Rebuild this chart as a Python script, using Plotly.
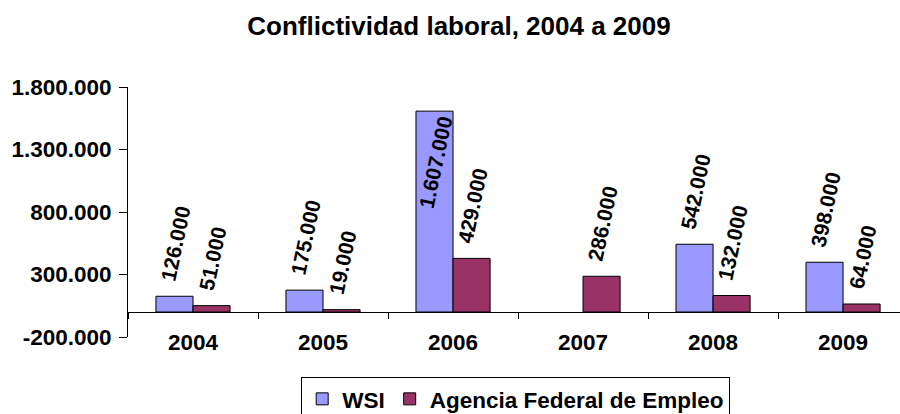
import plotly.graph_objects as go

# datos
years = ["2004", "2005", "2006", "2007", "2008", "2009"]
wsi = [126000, 175000, 1607000, None, 542000, 398000]
afe = [51000, 19000, 429000, 286000, 132000, 64000]
y_ticks = [-200000, 300000, 800000, 1300000, 1800000]

FONT = "Liberation Sans, Arial, sans-serif"
LIMITE = 1400000  # por encima la etiqueta no cabe fuera de la barra


def fmt(v):
    # separador de miles con punto, signo menos normal
    return f"{v:,}".replace(",", ".")


def etiquetas(vals):
    txt = ["" if v is None else "\u2002" + fmt(v) for v in vals]
    pos = ["inside" if (v or 0) > LIMITE else "outside" for v in vals]
    return txt, pos


lab_font = dict(family=FONT, size=21, color="black", weight="bold")

fig = go.Figure()
for name, vals, color in [("WSI", wsi, "#9999FF"),
                          ("Agencia Federal de Empleo", afe, "#993366")]:
    txt, pos = etiquetas(vals)
    fig.add_trace(go.Bar(x=years, y=vals, name=name, text=txt,
                         textposition=pos, textangle=-78, constraintext="none",
                         insidetextanchor="end", cliponaxis=False,
                         textfont=lab_font, insidetextfont=lab_font,
                         outsidetextfont=lab_font, hoverinfo="x+y",
                         marker=dict(color=color, line=dict(color="black", width=1))))
# traza vacia para el eje de categorias que cruza en cero
fig.add_trace(go.Scatter(x=years, y=[0] * len(years), xaxis="x2", mode="none",
                         showlegend=False, hoverinfo="skip"))

fig.update_layout(
    width=900, height=414,
    paper_bgcolor="white", plot_bgcolor="white",
    margin=dict(l=128, r=0, t=87, b=77),
    barmode="group", bargap=0.43, bargroupgap=0,
    title=dict(text="<b>Conflictividad laboral, 2004 a 2009</b>",
               x=0.51, xref="container", y=0.937, yanchor="middle",
               font=dict(family=FONT, size=26, color="black")),
    font=dict(family=FONT, size=22, color="black"),
    showlegend=True,
    legend=dict(orientation="h", xref="container", yref="container",
                x=0.573, xanchor="center", y=0.09, yanchor="top",
                bordercolor="black", borderwidth=1,
                font=dict(family=FONT, size=22.5, color="black", weight="bold"),
                itemwidth=30),
    xaxis=dict(type="category", range=[-0.5, 5.438], visible=False,
               showgrid=False, zeroline=False),
    xaxis2=dict(type="category", matches="x",
                overlaying="x", anchor="free", position=0.1, automargin=False,
                showline=True, linecolor="black", linewidth=1,
                ticks="outside", tickson="boundaries", ticklen=6, tickcolor="black",
                ticklabelstandoff=10,
                tickfont=dict(family=FONT, size=22.5, color="black", weight="bold"),
                showgrid=False, zeroline=False),
)

fig.update_yaxes(range=[-200000, 1800000], tickvals=y_ticks,
                 ticktext=[fmt(t) for t in y_ticks], automargin=False,
                 showline=True, linecolor="black", linewidth=1,
                 ticks="outside", ticklen=8, tickcolor="black",
                 ticklabelstandoff=3,
                 tickfont=dict(family=FONT, size=22.5, color="black", weight="bold"),
                 showgrid=False, zeroline=False)

# quitar el margen por defecto del body
fig.write_html("out.html", config={"displayModeBar": False},
               post_script="document.body.style.margin='0';")
